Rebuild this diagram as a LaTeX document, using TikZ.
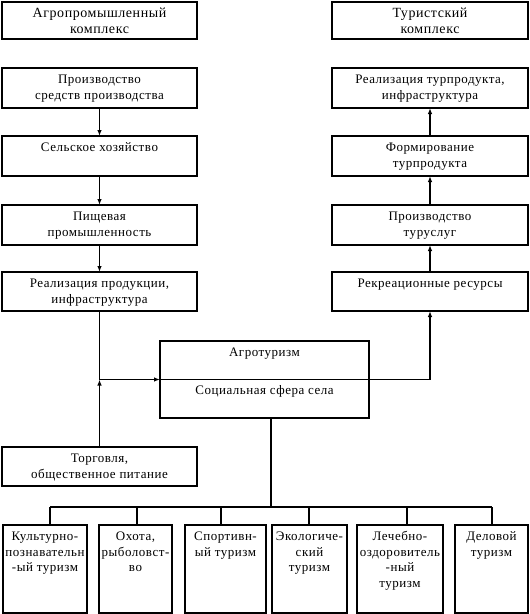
\documentclass[tikz,border=0pt]{standalone}
\usepackage{fontspec}
\setmainfont[LetterSpace=4]{Liberation Serif}
\usetikzlibrary{arrows.meta,calc}
\newcommand{\bxt}[3]{\parbox[c][#2][t]{#1}{\centering\vspace*{5pt}\strut #3\par}}
\begin{document}
\begin{tikzpicture}[x=1pt,y=-1pt,
  bx/.style={draw, line width=1.1pt, inner sep=0pt, outer sep=0pt, anchor=north west,
    font=\fontsize{13}{15.5}\selectfont},
  ln/.style={line width=1.1pt},
  arr/.style={line width=1.1pt, -{Latex[length=6pt,width=4.5pt]}}]
\useasboundingbox (0,0) rectangle (530,614);
% left column
\node[bx] (L1) at (2,2)   {\bxt{195pt}{37pt}{\fontsize{14}{15.5}\selectfont Агропромышленный\\комплекс}};
\node[bx] (L2) at (2,68)  {\bxt{195pt}{40pt}{Производство\\средств производства}};
\node[bx] (L3) at (2,136) {\bxt{195pt}{40pt}{Сельское хозяйство}};
\node[bx] (L4) at (2,205) {\bxt{195pt}{40pt}{Пищевая\\промышленность}};
\node[bx] (L5) at (2,272) {\bxt{195pt}{39pt}{Реализация продукции,\\инфраструктура}};
\node[bx] (T)  at (2,447) {\bxt{195pt}{39pt}{Торговля,\\общественное питание}};
% right column
\node[bx] (R1) at (332,2)   {\bxt{196pt}{37pt}{\fontsize{14}{15.5}\selectfont Туристский\\комплекс}};
\node[bx] (R2) at (332,68)  {\bxt{196pt}{40pt}{Реализация турпродукта,\\инфраструктура}};
\node[bx] (R3) at (332,136) {\bxt{196pt}{40pt}{Формирование\\турпродукта}};
\node[bx] (R4) at (332,205) {\bxt{196pt}{40pt}{Производство\\туруслуг}};
\node[bx] (R5) at (332,272) {\bxt{196pt}{39pt}{Рекреационные ресурсы}};
% center
\node[bx] (C) at (160,341) {\bxt{209pt}{77pt}{Агротуризм\\[22pt]Социальная сфера села}};
% bottom row
\node[bx] (B1) at (3,525)   {\bxt{84pt}{88pt}{Культурно-\\познавательн\\-ый туризм}};
\node[bx] (B2) at (99,525)  {\bxt{73pt}{88pt}{Охота,\\рыболовст-\\во}};
\node[bx] (B3) at (185,525) {\bxt{81pt}{88pt}{Спортивн-\\ый туризм}};
\node[bx] (B4) at (272,525) {\bxt{75pt}{88pt}{Экологиче-\\ский\\туризм}};
\node[bx] (B5) at (357,525) {\bxt{86pt}{88pt}{Лечебно-\\оздоровитель\\-ный\\туризм}};
\node[bx] (B6) at (455,525) {\bxt{73pt}{88pt}{Деловой\\туризм}};
% left chain
\draw[arr] (L2) -- (L3);
\draw[arr] (L3) -- (L4);
\draw[arr] (L4) -- (L5);
% right chain
\draw[arr] (R5) -- (R4);
\draw[arr] (R4) -- (R3);
\draw[arr] (R3) -- (R2);
% center connections
\coordinate (J) at (L5.south |- C.west);
\draw[arr] (L5.south) |- (C.west);
\draw[arr] (T.north) -- (J);
\draw[ln] (C.west) -- (C.east);
\draw[arr] (C.east) -| (R5.south);
% bottom tree
\coordinate (Cb) at ($(C.south)+(6.5,0)$);
\coordinate (h1) at (50,507);
\coordinate (h2) at (137,507);
\coordinate (h3) at (221,507);
\coordinate (h4) at (309,507);
\coordinate (h5) at (407,507);
\coordinate (h6) at (492,507);
\draw[ln] (Cb) -- (Cb |- h1);
\draw[ln] (h1) -- (h6);
\foreach \i in {1,...,6} {\draw[ln] (h\i) -- (h\i |- B\i.north);}
\end{tikzpicture}
\end{document}
